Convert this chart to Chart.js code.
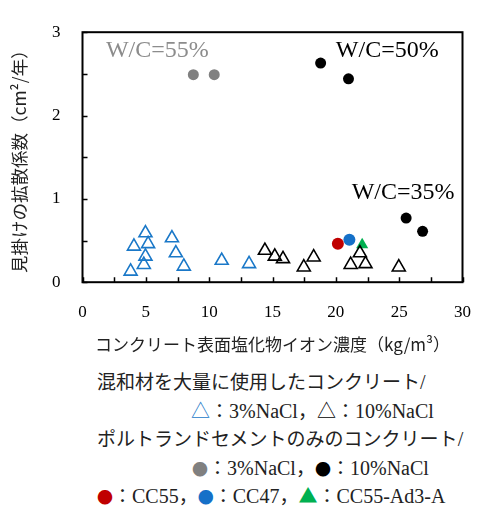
<!DOCTYPE html>
<html>
<head>
<meta charset="utf-8">
<script src="https://cdn.jsdelivr.net/npm/chart.js@4/dist/chart.umd.min.js"></script>
<style>
  body { margin: 0; background: #fff; width: 491px; height: 507px; position: relative; overflow: hidden; }
  #wrap { position: absolute; left: 0; top: 0; width: 491px; height: 360px; }
  .leg { position: absolute; white-space: nowrap; font-family: "Noto Sans CJK JP", sans-serif; font-size: 19px; color: #222; line-height: 22px; }
  .lat { font-family: "Liberation Serif", serif; font-size: 20px; }
  .mk { font-family: "Noto Sans CJK JP", sans-serif; font-size: 19px; }
  .dot { font-family: "Noto Sans CJK JP", sans-serif; font-size: 16px; }
</style>
</head>
<body>
<div id="wrap"><canvas id="chart"></canvas></div>
<div class="leg" style="left:97px; top:370px;">混和材を大量に使用したコンクリート<span class="lat">/</span></div>
<div class="leg" style="left:191px; top:399px;"><span class="mk" style="color:#1a78c8">△</span>：<span class="lat">3%NaCl</span>，<span class="mk" style="color:#000">△</span>：<span class="lat">10%NaCl</span></div>
<div class="leg" style="left:97px; top:427px;">ポルトランドセメントのみのコンクリート<span class="lat">/</span></div>
<div class="leg" style="left:192px; top:456px;"><span class="dot" style="color:#808080">●</span>：<span class="lat">3%NaCl</span>，<span class="dot" style="color:#000">●</span>：<span class="lat">10%NaCl</span></div>
<div class="leg" style="left:97px; top:484px;"><span class="dot" style="color:#c00000">●</span>：<span class="lat">CC55</span>，<span class="dot" style="color:#1570c8">●</span>：<span class="lat">CC47</span>，<span class="mk" style="color:#00b050">▲</span>：<span class="lat">CC55-Ad3-A</span></div>
<script>
// 混和材 3%NaCl (blue open triangles)
const mix3X = [3.8, 4.06, 4.97, 5.18, 4.97, 4.84, 7.06, 7.37, 8.0, 10.99, 13.15];
const mix3Y = [0.13, 0.43, 0.59, 0.46, 0.31, 0.21, 0.53, 0.35, 0.19, 0.26, 0.22];
// 混和材 10%NaCl (black open triangles)
const mix10X = [14.4, 15.18, 15.83, 17.47, 18.25, 21.17, 21.9, 22.34, 24.97];
const mix10Y = [0.38, 0.31, 0.28, 0.18, 0.30, 0.21, 0.35, 0.22, 0.18];
// ポルトランド 3%NaCl (gray)
const opc3X = [8.75, 10.4];
const opc3Y = [2.49, 2.49];
// ポルトランド 10%NaCl (black)
const opc10X = [18.8, 21.0, 25.55, 26.85];
const opc10Y = [2.63, 2.44, 0.77, 0.61];
// CC55, CC47, CC55-Ad3-A
const cc55 = [20.16, 0.46];
const cc47 = [21.07, 0.51];
const ccAd = [22.08, 0.45];

const xTicks = [0, 5, 10, 15, 20, 25, 30];
const yTicks = [0, 1, 2, 3];

const labels = [
    { text: 'W/C=55%', x: 1.85, y: 2.78, color: '#8c8c8c' },
    { text: 'W/C=50%', x: 20.0, y: 2.78, color: '#000' },
    { text: 'W/C=35%', x: 21.25, y: 1.07, color: '#000' }
];

const toPts = (xs, ys) => xs.map((x, i) => ({ x: x, y: ys[i] }));

const frame = {
    id: 'frame',
    afterDraw(chart) {
        const ctx = chart.ctx;
        const a = chart.chartArea;
        const xs = chart.scales.x;
        const ys = chart.scales.y;
        ctx.save();
        ctx.strokeStyle = '#000';
        ctx.lineWidth = 1.5;
        ctx.beginPath();
        xs.ticks.forEach(t => {
            const px = Math.round(xs.getPixelForValue(t.value)) + 0.5;
            ctx.moveTo(px, a.bottom);
            ctx.lineTo(px, a.bottom - 5);
        });
        ys.ticks.forEach(t => {
            const py = Math.round(ys.getPixelForValue(t.value)) + 0.5;
            ctx.moveTo(a.left, py);
            ctx.lineTo(a.left + 5, py);
        });
        ctx.stroke();
        ctx.lineWidth = 2;
        ctx.strokeRect(a.left, a.top, a.right - a.left, a.bottom - a.top);
        ctx.font = '24px "Liberation Serif", serif';
        ctx.textBaseline = 'middle';
        labels.forEach(l => {
            ctx.fillStyle = l.color;
            ctx.fillText(l.text, xs.getPixelForValue(l.x), ys.getPixelForValue(l.y));
        });
        ctx.restore();
    }
};

const ctx = document.getElementById('chart');
new Chart(ctx, {
    type: 'scatter',
    data: {
        datasets: [
            { label: 'mix3', data: toPts(mix3X, mix3Y), pointStyle: 'triangle', radius: 7.5, borderWidth: 1.6, borderColor: '#1a78c8', backgroundColor: 'rgba(0,0,0,0)' },
            { label: 'mix10', data: toPts(mix10X, mix10Y), pointStyle: 'triangle', radius: 7.5, borderWidth: 1.6, borderColor: '#000', backgroundColor: 'rgba(0,0,0,0)' },
            { label: 'opc3', data: toPts(opc3X, opc3Y), pointStyle: 'circle', radius: 5.5, borderWidth: 0, backgroundColor: '#808080' },
            { label: 'opc10', data: toPts(opc10X, opc10Y), pointStyle: 'circle', radius: 5.5, borderWidth: 0, backgroundColor: '#000' },
            { label: 'CC55', data: [{ x: cc55[0], y: cc55[1] }], pointStyle: 'circle', radius: 6, borderWidth: 0, backgroundColor: '#c00000' },
            { label: 'CC47', data: [{ x: cc47[0], y: cc47[1] }], pointStyle: 'circle', radius: 6, borderWidth: 0, backgroundColor: '#1570c8' },
            { label: 'CC55-Ad3-A', data: [{ x: ccAd[0], y: ccAd[1] }], pointStyle: 'triangle', radius: 7, borderWidth: 0, backgroundColor: '#00b050' }
        ]
    },
    options: {
        responsive: true,
        maintainAspectRatio: false,
        animation: false,
        layout: { padding: { left: -12, right: 24, top: 14, bottom: 5 } },
        plugins: { legend: { display: false }, tooltip: { enabled: false } },
        scales: {
            x: {
                min: 0, max: 30,
                grid: { display: false, drawTicks: false },
                border: { display: false },
                ticks: {
                    stepSize: 2.5, padding: 20, color: '#000', maxRotation: 0, autoSkip: false,
                    font: { family: 'Liberation Serif', size: 17 },
                    callback: v => xTicks.includes(v) ? String(v) : ''
                },
                title: {
                    display: true,
                    text: 'コンクリート表面塩化物イオン濃度（kg/m³）',
                    color: '#222',
                    font: { family: '"Noto Sans CJK JP"', size: 17 },
                    padding: { top: -8, bottom: 0 }
                }
            },
            y: {
                min: 0, max: 3,
                grid: { display: false, drawTicks: false },
                border: { display: false },
                ticks: {
                    stepSize: 0.5, padding: 22, color: '#000', autoSkip: false,
                    font: { family: 'Liberation Serif', size: 17 },
                    callback: v => yTicks.includes(v) ? String(v) : ''
                },
                title: {
                    display: true,
                    text: '見掛けの拡散係数（cm²/年）',
                    color: '#222',
                    font: { family: '"Noto Sans CJK JP"', size: 17.5 },
                    padding: { top: 21, bottom: 0 }
                }
            }
        }
    },
    plugins: [frame]
});
</script>
</body>
</html>
